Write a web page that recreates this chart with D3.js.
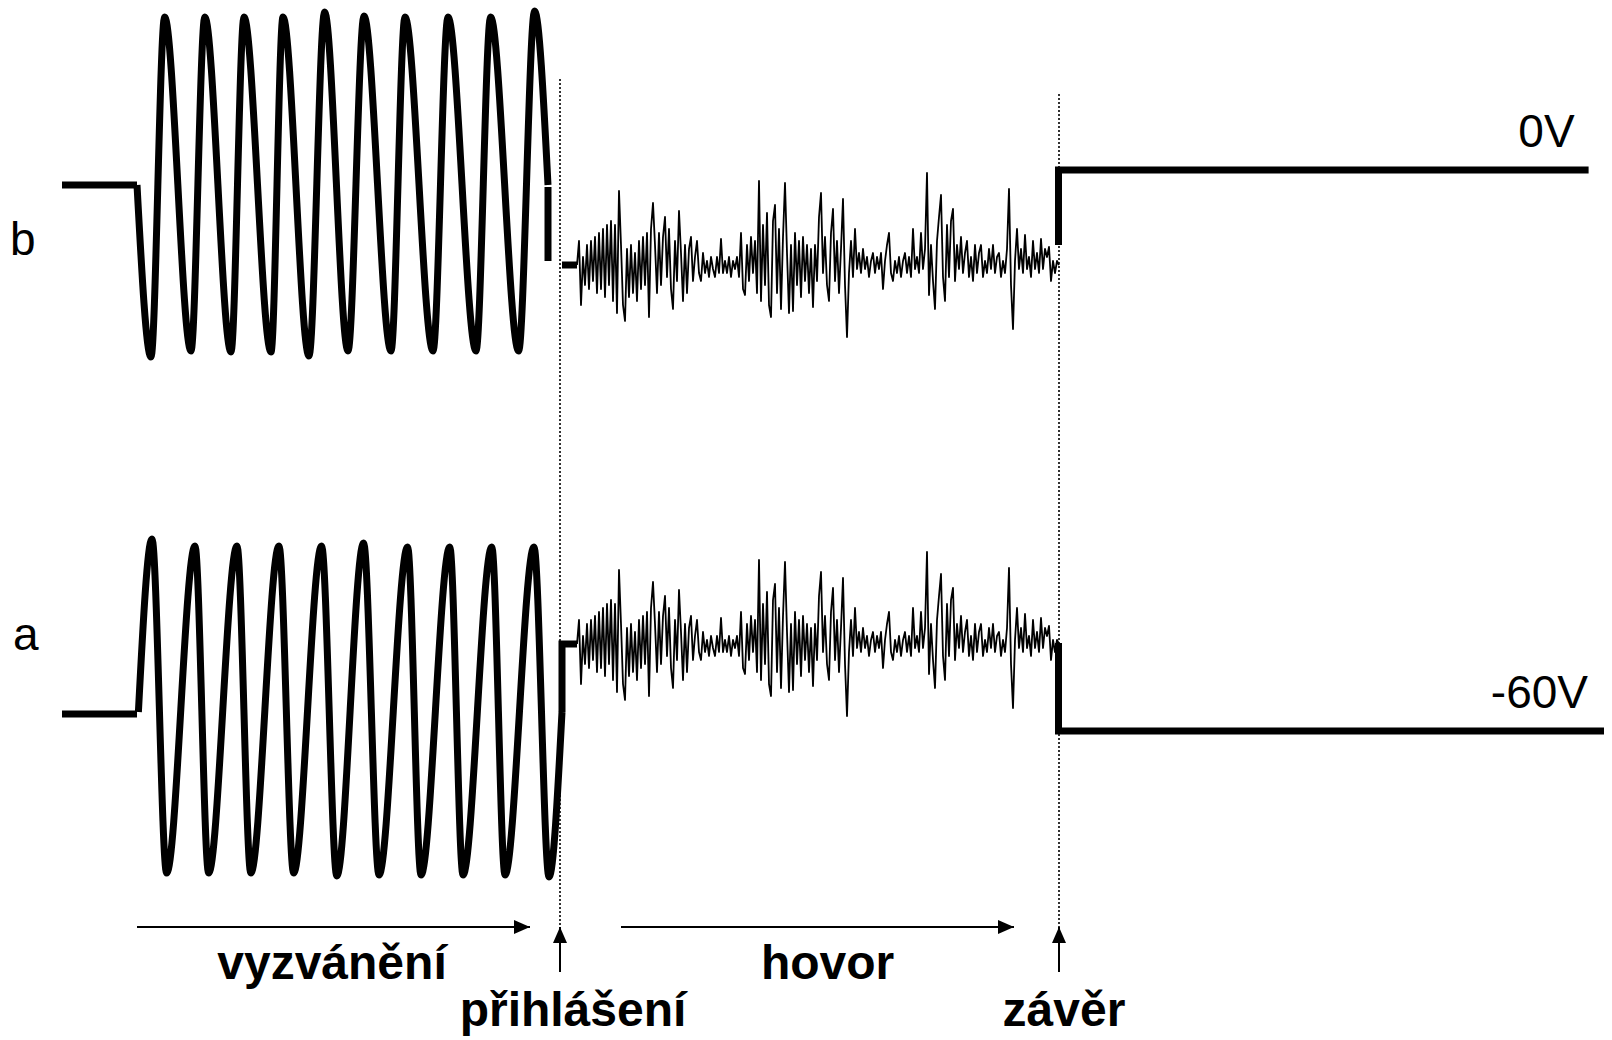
<!DOCTYPE html>
<html>
<head>
<meta charset="utf-8">
<script src="https://cdn.jsdelivr.net/npm/d3@7"></script>
<style>
  html, body { margin: 0; padding: 0; background: #fff; }
  svg { display: block; }
</style>
</head>
<body>
<svg id="chart" width="1612" height="1040"></svg>
<script>
// ---------------- DATA (time in ms, level in V) ----------------
const traceNames = ["b", "a"];
const levelLabels = ["0V", "-60V"];

// idle level before ringing
const idleT = [0, 37.5];
const idleVB = [0, 0];
const idleVA = [-2, -2];

// ringing: extrema of the ringing signal (wire b and wire a)
const ringTB = [37.5, 44.5, 51.3, 64.5, 71.4, 84.5, 91, 104.5, 110.5, 123.5, 131.3, 143, 151, 164.5, 171.5, 185.5, 193, 207, 214.3, 228.3, 236.3, 243];
const ringVB = [0, -86, 84, -83, 84, -83.5, 84, -83.5, 84, -85.5, 86.5, -83, 84.5, -83, 84, -83, 84, -83, 84, -83, 87, 0];
const ringTA = [38.2, 45, 52.3, 66.5, 73.3, 87.5, 94.4, 108.5, 115.8, 129.8, 137.4, 150.8, 158.5, 172.8, 179.5, 193.9, 200.5, 214.9, 221.5, 236, 243.5, 250];
const ringVA = [-1, 85.5, -81.5, 82, -81.5, 82, -81.5, 82, -81.5, 82, -83, 83.5, -82.5, 81.5, -82.5, 81.5, -82.5, 81.5, -82.5, 81.5, -83.5, -1];

// off-hook (přihlášení) steps
const offhookTB = [243, 243];
const offhookVB = [-1, -38];
const offhookTA = [250, 250, 257.5];
const offhookVA = [-1, 33, 33];
const stubTB = [250, 257.5];
const stubVB = [-40, -40];

// speech signal (hovor), one sample per ms starting at noiseStart
const noiseStart = 257.5;
const noiseBaseB = -40;
const noiseBaseA = 33;
const noise = [
  0, 12, -20, 4, -10, 10, -12, 12, -8, 14, -14, 16,
  -12, 18, -16, 20, -10, 22, -18, 20, -24,
  37, 10, -20, -28,
  8, -16, 10, -14, 6, -18, 12, -12, 14, -10, 16,
  -26, 18, 31, 10, -14,
  16, -10, 14, 24, -6, 18, -12, -22, 12, -8,
  27, 6, -18, 10, -14, 8, 14, -8, 4, 12, -4,
  -8, 6, -4, 2, -6, 4, -2, -6, 4, -4,
  13, -4, 2, -4, 4, -6, 2, -2, 4, -6,
  16, -12, -15, 10, -8, 14, -4, 12, -14,
  42, -18, 20, -10, 26, -20, -26, 22, 30, -14, 18, -22, 14, 41, 6, -24,
  10, -23, 16, -10, 12, -16, 14, -8, 10, -14, 8,
  -21, 10, -8, 24, 36, -4, 14, -10, -18, 16, 28, -8, 12, -14, 8,
  33, -10, -36, -4, 12, -6,
  18, -2, 6, -4, 8, -2, 4, -6, 2, 6, -4, 4, -2, 6, -12, 2, 10, 16, -4, -8, 2,
  -4, 4, -6, 2, 6, -4, 4, -6,
  18, -2, 4, -4, 16, -2, 8, 46, -15, 10, -8, -22, 12, 24, 35, -6, -18, 20, -6, 22, 28, -8, 10, -2,
  14, -4, 6, 12, -6, 4, -8, 10, -4, 6, 10, -6, 2, -4, 8, -2, 10, -4, 4, 6, -6, 2, -4, 8,
  38, -10, -32, 2, 18, -2, 8, -4, 15, -2, 4, -6, 12, -2, 6, -4, 13, -2, 8, 4, 9, -8, 2, -4, 2, 0
];

// hang-up (závěr) levels
const hangupTB = [498.25, 498.25, 763.3];
const hangupVB = [-30, 7.5, 7.5];
const hangupTA = [498.25, 498.25, 771];
const hangupVA = [33.5, -10.5, -10.5];

// events and phases
const eventNames = ["přihlášení", "závěr"];
const eventT = [249, 498.5];
const eventLabelT = [255.5, 501];
const phaseNames = ["vyzvánění", "hovor"];
const phaseT0 = [37.5, 279.5];
const phaseT1 = [234, 476];
const phaseLabelT = [135, 382.8];

// ---------------- DRAWING ----------------
const svg = d3.select("#chart");
const x = d3.scaleLinear().domain([0, 771]).range([62, 1604]);
const yB = d3.scaleLinear().domain([-90, 90]).range([365, 5]);
const yA = d3.scaleLinear().domain([-90, 90]).range([890, 530]);

const FONT = "'Liberation Sans', Arial, Helvetica, sans-serif";
const THICK = 7;

function drawSeries(ts, vs, y, width, curve) {
  const line = d3.line().x(d => x(d[0])).y(d => y(d[1])).curve(curve || d3.curveLinear);
  svg.append("path")
    .datum(d3.zip(ts, vs))
    .attr("d", line)
    .attr("fill", "none")
    .attr("stroke", "#000")
    .attr("stroke-width", width)
    .attr("stroke-linejoin", width > 3 ? "miter" : "round")
    .attr("stroke-linecap", "butt");
}

// defs: arrow heads
const defs = svg.append("defs");
defs.append("marker")
  .attr("id", "arrow")
  .attr("viewBox", "0 0 16 14")
  .attr("refX", 16).attr("refY", 7)
  .attr("markerWidth", 16).attr("markerHeight", 14)
  .attr("markerUnits", "userSpaceOnUse")
  .attr("orient", "auto")
  .append("path").attr("d", "M0,0 L16,7 L0,14 Z").attr("fill", "#000");

// dotted event lines
const dotTop = [79, 94];
eventT.forEach((t, i) => {
  svg.append("line")
    .attr("x1", x(t)).attr("x2", x(t))
    .attr("y1", dotTop[i]).attr("y2", 928)
    .attr("stroke", "#000").attr("stroke-width", 1.6)
    .attr("stroke-dasharray", "2,2");
});

// idle
drawSeries(idleT, idleVB, yB, THICK);
drawSeries(idleT, idleVA, yA, THICK);
// ringing
drawSeries(ringTB, ringVB, yB, THICK, d3.curveMonotoneX);
drawSeries(ringTA, ringVA, yA, THICK, d3.curveMonotoneX);
// off-hook
drawSeries(offhookTB, offhookVB, yB, THICK);
drawSeries(stubTB, stubVB, yB, THICK);
drawSeries(offhookTA, offhookVA, yA, THICK);
// speech
const noiseT = noise.map((v, i) => noiseStart + i);
drawSeries(noiseT, noise.map(v => noiseBaseB + v), yB, 1.8);
drawSeries(noiseT, noise.map(v => noiseBaseA + v), yA, 1.8);
// hang-up
drawSeries(hangupTB, hangupVB, yB, THICK);
drawSeries(hangupTA, hangupVA, yA, THICK);

// level labels
svg.append("text").text(levelLabels[0])
  .attr("x", x(hangupTB[2]) - 14).attr("y", yB(hangupVB[2]) - 23)
  .attr("text-anchor", "end").attr("font-family", FONT).attr("font-size", 46);
svg.append("text").text(levelLabels[1])
  .attr("x", x(hangupTA[2]) - 16).attr("y", yA(hangupVA[2]) - 23)
  .attr("text-anchor", "end").attr("font-family", FONT).attr("font-size", 46);

// trace labels
svg.append("text").text(traceNames[0]).attr("x", 10).attr("y", 255)
  .attr("font-family", FONT).attr("font-size", 46);
svg.append("text").text(traceNames[1]).attr("x", 13).attr("y", 650)
  .attr("font-family", FONT).attr("font-size", 46);

// phase arrows + labels
phaseNames.forEach((name, i) => {
  svg.append("line")
    .attr("x1", x(phaseT0[i])).attr("x2", x(phaseT1[i]))
    .attr("y1", 927).attr("y2", 927)
    .attr("stroke", "#000").attr("stroke-width", 2)
    .attr("marker-end", "url(#arrow)");
  svg.append("text").text(name)
    .attr("x", x(phaseLabelT[i])).attr("y", 979)
    .attr("text-anchor", "middle").attr("font-family", FONT)
    .attr("font-weight", "bold").attr("font-size", 48);
});

// event arrows + labels
eventNames.forEach((name, i) => {
  svg.append("line")
    .attr("x1", x(eventT[i])).attr("x2", x(eventT[i]))
    .attr("y1", 972).attr("y2", 927)
    .attr("stroke", "#000").attr("stroke-width", 2)
    .attr("marker-end", "url(#arrow)");
  svg.append("text").text(name)
    .attr("x", x(eventLabelT[i])).attr("y", 1026)
    .attr("text-anchor", "middle").attr("font-family", FONT)
    .attr("font-weight", "bold").attr("font-size", 48);
});
</script>
</body>
</html>
